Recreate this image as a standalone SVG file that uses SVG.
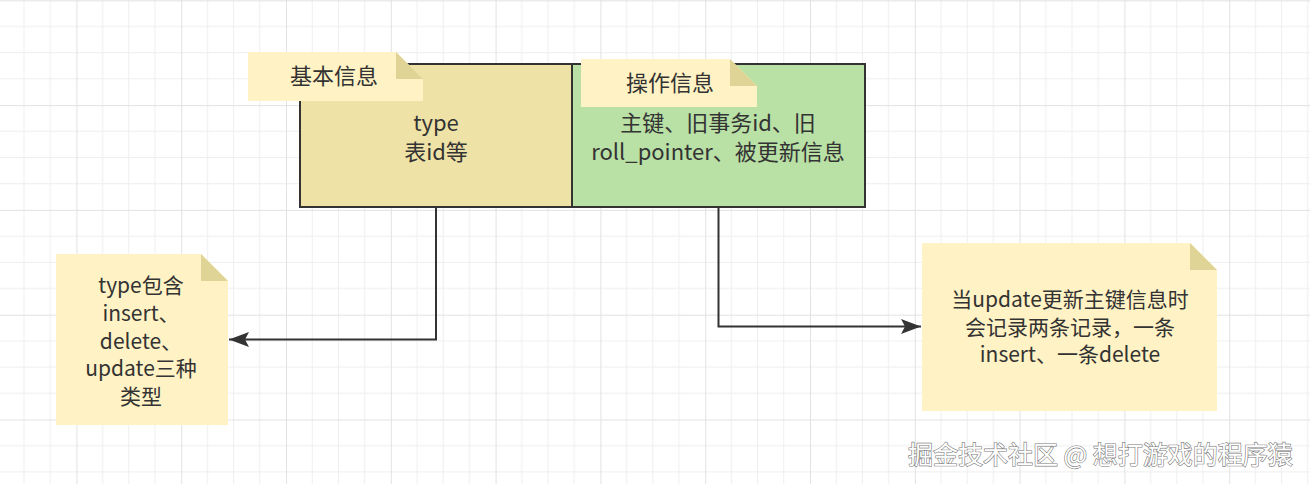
<svg xmlns="http://www.w3.org/2000/svg" width="1310" height="484" viewBox="0 0 1310 484">
  <defs>
    <pattern id="grid" x="76.4" y="0.3" width="104.8" height="104.8" patternUnits="userSpaceOnUse">
      <path d="M26.2 0V104.8M52.4 0V104.8M78.6 0V104.8M0 26.2H104.8M0 52.4H104.8M0 78.6H104.8" stroke="#eeeeee" stroke-width="1" fill="none"/>
      <path d="M0.5 0V104.8M0 0.5H104.8" stroke="#e2e2e2" stroke-width="1" fill="none"/>
    </pattern>
    <marker id="arrow" markerWidth="20" markerHeight="15" refX="20" refY="7.5" orient="auto" markerUnits="userSpaceOnUse" viewBox="0 0 20 15">
      <path d="M0 0L20 7.5L0 15L4 7.5Z" fill="#333333"/>
    </marker>
  </defs>
  <style>
    text { font-family: "Noto Sans CJK SC", "Noto Sans", sans-serif; fill: #333333; font-size: 22px; text-anchor: middle; }
    .sm { font-size: 21px; }
    .box { stroke: #333333; stroke-width: 2; }
    .note { fill: #fff2c4; }
    .fold { fill: #e0d396; }
    .conn { fill: none; stroke: #333333; stroke-width: 2; }
    .wm { font-size: 25px; text-anchor: start; fill: #ffffff; stroke: #7a7a7a; stroke-width: 1.2; paint-order: stroke; }
  </style>
  <rect width="1310" height="484" fill="#ffffff"/>
  <rect width="1310" height="484" fill="url(#grid)"/>

  <g id="basic-box">
    <rect class="box" x="300" y="64" width="272" height="143" fill="#efe2a6"/>
    <text x="436" y="131">type</text>
    <text x="436" y="160">表id等</text>
  </g>
  <g id="op-box">
    <rect class="box" x="572" y="64" width="293" height="143" fill="#b9e0a5"/>
    <text x="718" y="131">主键、旧事务id、旧</text>
    <text x="718" y="160">roll_pointer、被更新信息</text>
  </g>

  <g id="note-basic">
    <path class="note" d="M248 52H396L423 79V101H248Z"/>
    <path class="fold" d="M396 52V79H423Z"/>
    <text x="334" y="84">基本信息</text>
  </g>
  <g id="note-op">
    <path class="note" d="M581 59H730L757 86V107H581Z"/>
    <path class="fold" d="M730 59V86H757Z"/>
    <text x="670" y="91">操作信息</text>
  </g>

  <g id="note-type">
    <path class="note" d="M56 254H201L228 281V425H56Z"/>
    <path class="fold" d="M201 254V281H228Z"/>
    <text class="sm" x="141" y="293">type包含</text>
    <text class="sm" x="141" y="321">insert、</text>
    <text class="sm" x="141" y="348.5">delete、</text>
    <text class="sm" x="141" y="376">update三种</text>
    <text class="sm" x="141" y="403.5">类型</text>
  </g>

  <g id="note-update">
    <path class="note" d="M922 243H1190L1217 270V411H922Z"/>
    <path class="fold" d="M1190 243V270H1217Z"/>
    <text class="sm" x="1070" y="307">当update更新主键信息时</text>
    <text class="sm" x="1070" y="334.5">会记录两条记录，一条</text>
    <text class="sm" x="1070" y="362">insert、一条delete</text>
  </g>

  <g id="connectors">
    <path class="conn" d="M436 207V339.5H229" marker-end="url(#arrow)"/>
    <path class="conn" d="M718.5 207V326.5H921" marker-end="url(#arrow)"/>
  </g>

  <g id="watermark">
    <text class="wm" x="908" y="464">掘金技术社区 @ 想打游戏的程序猿</text>
  </g>
</svg>
